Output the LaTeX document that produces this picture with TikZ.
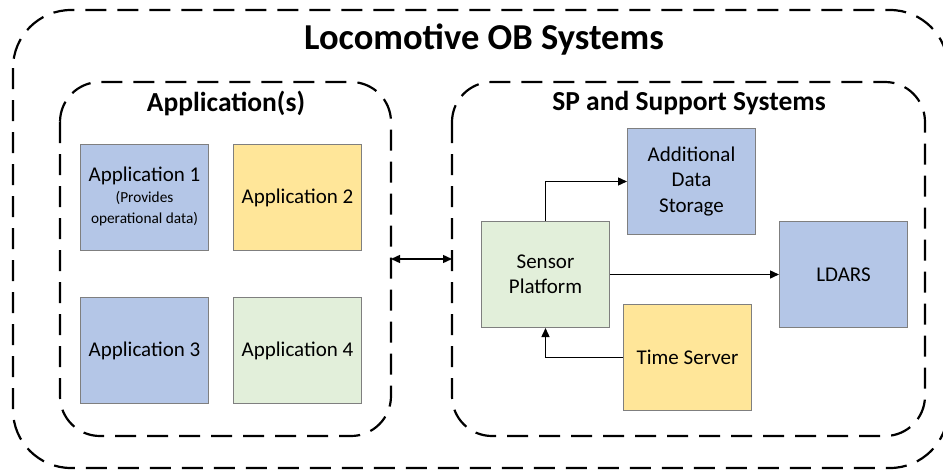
\documentclass[tikz,border=0pt]{standalone}
\usepackage{fontspec}
\setmainfont{Carlito}
\usetikzlibrary{arrows.meta}
\definecolor{cblue}{HTML}{B4C6E7}
\definecolor{cyellow}{HTML}{FFE699}
\definecolor{cgreen}{HTML}{E2EFDA}
\definecolor{cborder}{HTML}{7F7F7F}
\tikzset{
  box/.style={draw=cborder, line width=1pt, minimum width=128pt, minimum height=106pt, inner sep=0pt, align=center, font=\fontsize{21}{25.5}\selectfont, anchor=north west},
  small/.style={inner sep=0pt, font=\fontsize{15.3}{18}\selectfont},
  group/.style={draw=black, line width=2.2pt, dash pattern=on 21pt off 11pt, rounded corners=40pt},
  conn/.style={line width=1.4pt, -{Triangle[length=9pt,width=8pt]}},
}
\begin{document}
\begin{tikzpicture}[x=1pt,y=-1pt]
\useasboundingbox (0,0) rectangle (943,474);
\clip (0,0) rectangle (943,474);
\draw[group, rounded corners=58pt] (13,10) rectangle (948,468);
\node[font=\bfseries\fontsize{36.5}{40}\selectfont] (title) at (484,40) {Locomotive OB Systems};
\draw[group] (60,82) rectangle (391,436);
\draw[group] (452,82) rectangle (925,436);
\node[font=\bfseries\fontsize{27.5}{30}\selectfont] (ltitle) at (226,103) {Application(s)};
\node[font=\bfseries\fontsize{27.5}{30}\selectfont] (rtitle) at (689,103) {SP and Support Systems};
\coordinate (lwall) at (391,259);
\coordinate (rwall) at (452,259);
\node[box, fill=cblue] (a1) at (80,144) {};
\node[inner sep=0pt, font=\fontsize{21}{25}\selectfont] (a1t) at ([yshift=22pt]a1.center) {Application 1};
\node[small] (a1p) at (a1.center) {(Provides};
\node[small] (a1o) at ([yshift=-22pt]a1.center) {operational data)};
\node[box, fill=cyellow] (a2) at (233,144) {Application 2};
\node[box, fill=cblue] (a3) at (80,297) {Application 3};
\node[box, fill=cgreen] (a4) at (233,297) {Application 4};
\node[box, fill=cblue] (ads) at (627,128) {Additional\\Data\\Storage};
\node[box, fill=cgreen, font=\fontsize{21}{25}\selectfont] (sp) at (481,221) {Sensor\\Platform};
\node[box, fill=cblue] (ldars) at (779,221) {LDARS};
\node[box, fill=cyellow] (ts) at (623,304) {Time Server};
\draw[line width=1.4pt, {Triangle[length=9pt,width=8pt]}-{Triangle[length=9pt,width=8pt]}] (lwall) -- (rwall);
\draw[conn] (sp.north) |- (ads.west);
\draw[conn] (sp.east) -- (sp.east -| ldars.west);
\draw[conn] (ts.west) -| (sp.south);
\end{tikzpicture}
\end{document}
